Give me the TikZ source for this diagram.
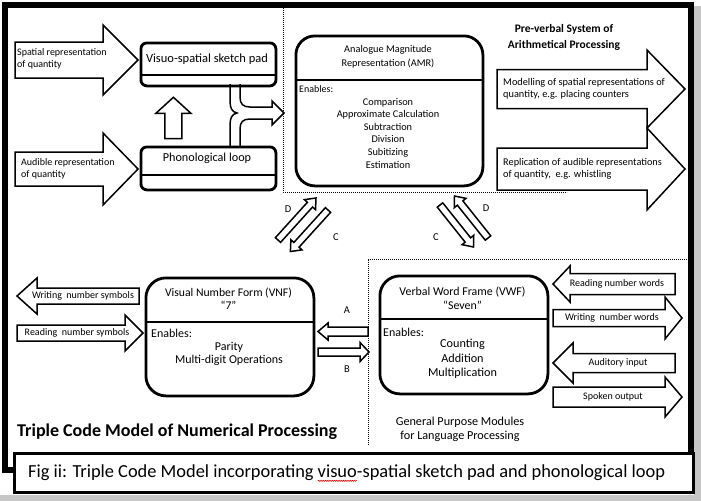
\documentclass[tikz,border=0pt]{standalone}
\usepackage{fontspec}
\setmainfont{Carlito}
\usetikzlibrary{calc,decorations.pathmorphing}
\newlength\spellwd
\newcommand\spellmark[1]{\settowidth\spellwd{#1}\rlap{#1}\tikz[baseline=0pt]{\useasboundingbox (0pt,0pt) rectangle (\spellwd,1pt);\draw[red!85!black,line width=0.5pt,decorate,decoration={zigzag,segment length=1.8pt,amplitude=0.6pt}] (0pt,-3pt) -- (\spellwd,-3pt);}}
% block arrow: [opts]{tail}{tip}{shaft half}{head half}{head length}
\newcommand\barrow[6][]{%
  \path #2 coordinate (ba-t) #3 coordinate (ba-h);
  \path ($(ba-h)!#6pt!(ba-t)$) coordinate (ba-b);
  \draw[blk,#1] ($(ba-t)!#4pt!90:(ba-h)$) -- ($(ba-b)!#4pt!90:(ba-h)$) -- ($(ba-b)!#5pt!90:(ba-h)$) -- (ba-h)
     -- ($(ba-b)!#5pt!-90:(ba-h)$) -- ($(ba-b)!#4pt!-90:(ba-h)$) -- ($(ba-t)!#4pt!-90:(ba-h)$) -- cycle;}
\begin{document}
\begin{tikzpicture}[x=1pt,y=-1pt,
  mod/.style={draw, line width=2.8pt, anchor=north west, inner sep=0pt},
  blk/.style={draw, line width=1.5pt, fill=white, line join=miter},
  divl/.style={line width=2.6pt},
  dots/.style={line width=0.9pt, dash pattern=on 0.9pt off 1.1pt},
  txt/.style={inner sep=0pt, font=\fontsize{10}{12}\selectfont},
  ttl/.style={inner sep=0pt, align=center},
  lett/.style={inner sep=0pt, font=\fontsize{10.5}{12}\selectfont},
  ]
\useasboundingbox (0,0) rectangle (701,501);
% shadow and frame
\fill[gray!45] (694,6) rectangle (701,501);
\fill[gray!45] (0,495) rectangle (701,501);
\draw[line width=6pt, fill=white] (5,5) rectangle (690.5,470);
% dotted region borders
\draw[dots] (283,8) -- (283,192) -- (567,192);
\draw[dots] (687,259) -- (368,259) -- (368,445);

% ---- boxes ----
\node[mod, rounded corners=6pt, minimum width=135pt, minimum height=43pt] (vssp) at (139.5,41.5) {};
\draw[divl] (vssp.west |- 0,75) -- (vssp.east |- 0,75);
\node[ttl, font=\fontsize{12.5}{14}\selectfont] (vsspT) at (207,59) {Visuo-spatial sketch pad};

\node[mod, rounded corners=6pt, minimum width=135pt, minimum height=43pt] (phon) at (139.5,145.5) {};
\draw[divl] (phon.west |- 0,175) -- (phon.east |- 0,175);
\node[ttl, font=\fontsize{12.2}{14}\selectfont] (phonT) at (207,158) {Phonological loop};

\node[mod, rounded corners=19pt, minimum width=187pt, minimum height=150pt] (amr) at (294.5,34.5) {};
\draw[divl] (amr.west |- 0,80) -- (amr.east |- 0,80);
\node[ttl, font=\fontsize{10.3}{14}\selectfont] (amrT) at (388,57) {Analogue Magnitude\\Representation (AMR)};
\node[txt, anchor=west] (amrE) at (299,89.5) {Enables:};
\node[ttl, font=\fontsize{10.3}{12.6}\selectfont] (amrL) at (388,133) {Comparison\\Approximate Calculation\\Subtraction\\Division\\Subitizing\\Estimation};

\node[mod, rounded corners=20pt, minimum width=168pt, minimum height=118pt] (vnf) at (144.5,276.5) {};
\draw[divl] (vnf.west |- 0,322) -- (vnf.east |- 0,322);
\node[ttl, font=\fontsize{11.7}{13}\selectfont] (vnfT) at (228.5,298.5) {Visual Number Form (VNF)\\“7”};
\node[txt, anchor=west, font=\fontsize{12}{13}\selectfont] (vnfE) at (151,333.5) {Enables:};
\node[ttl, font=\fontsize{12}{13.5}\selectfont] (vnfL) at (229,354) {Parity\\Multi-digit Operations};

\node[mod, rounded corners=20pt, minimum width=168pt, minimum height=118pt] (vwf) at (378.5,274.5) {};
\draw[divl] (vwf.west |- 0,319) -- (vwf.east |- 0,319);
\node[ttl, font=\fontsize{11.9}{14}\selectfont] (vwfT) at (462.5,298) {Verbal Word Frame (VWF)\\“Seven”};
\node[txt, anchor=west, font=\fontsize{12}{13}\selectfont] (vwfE) at (383,332) {Enables:};
\node[ttl, font=\fontsize{12.2}{14.5}\selectfont] (vwfL) at (462.5,359) {Counting\\Addition\\Multiplication};

% ---- input / output block arrows ----
\barrow{(15,60)}{(138,60)}{18}{35}{35}
\node[txt, anchor=west, align=left] (spT) at (17,59) {Spatial representation\\of quantity};
\barrow{(15,169)}{(138,169)}{17}{36}{35}
\node[txt, anchor=west, align=left] (auT) at (21,169) {Audible representation\\of quantity};

\barrow{(497,89)}{(685,89)}{19.5}{39}{38}
\node[txt, anchor=west, align=left, font=\fontsize{10.3}{12}\selectfont] (moT) at (503,89) {Modelling of spatial representations of\\quantity, e.g. placing counters};
\barrow{(497,169)}{(685,169)}{21}{41}{38}
\node[txt, anchor=west, align=left, font=\fontsize{10.3}{12}\selectfont] (reT) at (503,169) {Replication of audible representations\\of quantity,\ \ e.g. whistling};

\barrow{(139,296)}{(17,296)}{8}{18}{20}
\node[txt] (wsT) at (83,296) {Writing~ number symbols};
\barrow{(17,333)}{(143,333)}{8}{18}{18}
\node[txt] (rsT) at (77,333) {Reading~ number symbols};

\barrow{(675,284)}{(553,284)}{10.5}{18}{17}
\node[txt] (rwT) at (617,284) {Reading number words};
\barrow{(553,318)}{(682,318)}{8.5}{21}{17}
\node[txt] (wwT) at (612,318) {Writing~ number words};
\barrow{(675,363)}{(553,363)}{9.5}{20}{20}
\node[txt] (aiT) at (618,363) {Auditory input};
\barrow{(553,397)}{(682,397)}{10}{20}{17}
\node[txt] (soT) at (613,397) {Spoken output};

% ---- internal connectors ----
% up arrow: phonological loop -> sketch pad
\coordinate (upT) at ($(phon.north)+(-35,-7)$);
\coordinate (upH) at ($(vssp.south)+(-35,10)$);
\barrow{(upT)}{(upH)}{8.5}{17.5}{16}
% merging pipe into the AMR
\coordinate (pipeTip) at ($(amr.west |- 0,113)+(-10.5,0)$);
\draw[line width=1.5pt, fill=white, line join=miter]
  (240,84) -- (240,97) .. controls (240,104) and (243,107) .. (250,107) -- (272,107) -- (272,101)
  -- (pipeTip) -- (272,125) -- (272,119) -- (250,119) .. controls (243,119) and (240,122) .. (240,129) -- (240,146);
\draw[line width=1.5pt] (230,84) -- (230,101) .. controls (230,108) and (232,112) .. (237,113)
  .. controls (232,114) and (230,118) .. (230,125) -- (230,146);

% D / C arrows between AMR and VNF / VWF
\barrow{(278,240)}{(316,198)}{3.5}{7.5}{9}
\barrow{(328,210)}{(290.4,251.5)}{3.5}{7.5}{9}
\node[lett] (dL) at (288,209) {D};
\node[lett] (cL) at (336,237) {C};
\barrow{(440,205)}{(473.5,247)}{3.5}{7.5}{9}
\barrow{(488,238)}{(454.5,196)}{3.5}{7.5}{9}
\node[lett] (dR) at (486,208) {D};
\node[lett] (cR) at (436,237) {C};

% A / B arrows between VNF and VWF
\barrow{(368,331.5)}{(318,331.5)}{4.5}{8.5}{10}
\barrow{(318,352)}{(369,352)}{4}{9.5}{9}
\node[lett] (aL) at (347,310) {A};
\node[lett] (bL) at (347,369) {B};

% ---- region labels ----
\node[ttl, font=\bfseries\fontsize{11.5}{16}\selectfont] (preT) at (564,37) {Pre-verbal System of\\Arithmetical Processing};
\node[ttl, font=\fontsize{12.2}{14}\selectfont] (genT) at (460,429) {General Purpose Modules\\for Language Processing};
\node[inner sep=0pt, anchor=west, font=\bfseries\fontsize{18}{20}\selectfont] (mainT) at (17,432) {Triple Code Model of Numerical Processing};

% ---- caption ----
\draw[line width=3pt, fill=white] (14.5,453.5) rectangle (693.5,492.5);
\node[inner sep=0pt, anchor=west, font=\fontsize{18.4}{20}\selectfont] (capT) at (28,473) {Fig ii: Triple Code Model incorporating \spellmark{visuo}-spatial sketch pad and phonological loop};
\end{tikzpicture}
\end{document}
